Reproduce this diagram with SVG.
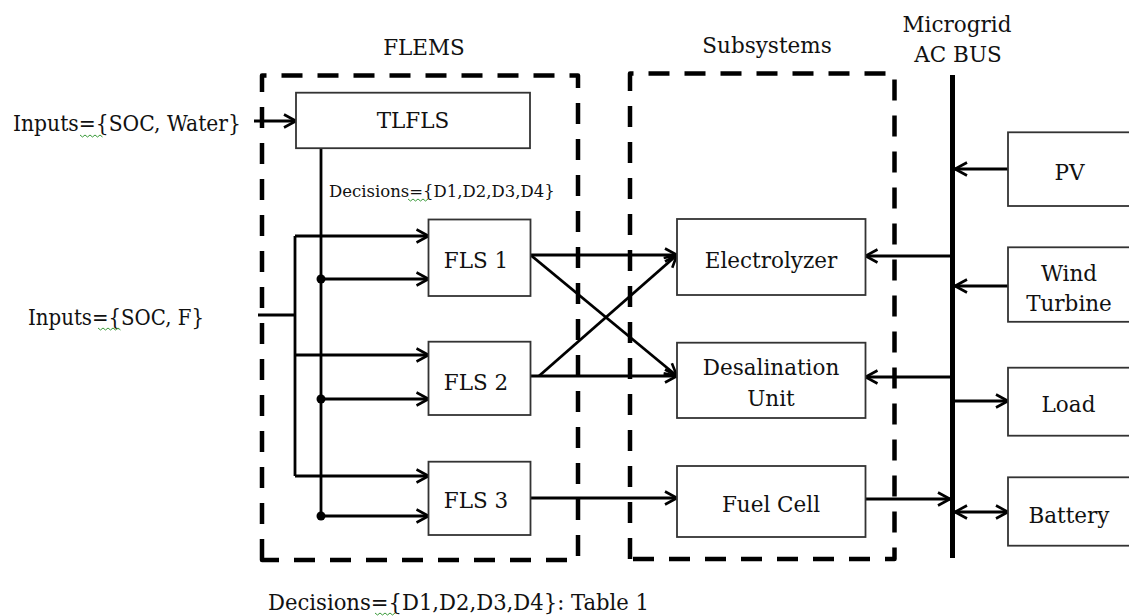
<svg xmlns="http://www.w3.org/2000/svg" width="1129" height="616" viewBox="0 0 1129 616">
<style>
  text { font-family: "DejaVu Serif", "Liberation Serif", serif; font-size: 21.5px; fill: #111; }
  .c { text-anchor: middle; }
  .small { font-size: 16.5px; }
  .box { fill: #fff; stroke: #333; stroke-width: 1.8; }
  .dash { fill: none; stroke: #000; stroke-width: 4.5; stroke-dasharray: 21 15; stroke-linejoin: round; }
  .ln { fill: none; stroke: #000; stroke-width: 2.8; }
  .arr { marker-end: url(#ah); }
  .squig { fill: none; stroke: #3a9a3a; stroke-width: 1; }
</style>
<defs>
  <marker id="ah" viewBox="0 0 14 16" refX="13" refY="8" markerWidth="14" markerHeight="16" markerUnits="userSpaceOnUse" orient="auto">
    <path d="M1,1.5 L13,8 L1,14.5" fill="none" stroke="#000" stroke-width="2.6"/>
  </marker>
  <marker id="ahs" viewBox="0 0 14 16" refX="13" refY="8" markerWidth="14" markerHeight="16" markerUnits="userSpaceOnUse" orient="auto-start-reverse">
    <path d="M1,1.5 L13,8 L1,14.5" fill="none" stroke="#000" stroke-width="2.6"/>
  </marker>
</defs>
<rect width="1129" height="616" fill="#fff"/>

<g id="groups">
  <path class="dash" d="M262,560 L262,75.5 L578,75.5 L578,560 Z"/>
  <path class="dash" d="M630,559 L630,73.5 L894.5,73.5 L894.5,559 Z"/>
  <text class="c" x="424" y="55">FLEMS</text>
  <text class="c" x="767" y="53">Subsystems</text>
</g>

<g id="bus">
  <line x1="952.5" y1="75" x2="952.5" y2="558" stroke="#000" stroke-width="5"/>
  <text class="c" x="957" y="32">Microgrid</text>
  <text class="c" x="958" y="62">AC BUS</text>
</g>

<g id="connectors">
  <line class="ln arr" x1="254" y1="121" x2="296" y2="121"/>
  <line class="ln" x1="321" y1="148" x2="321" y2="516"/>
  <circle cx="321" cy="279" r="4.5" fill="#000"/>
  <circle cx="321" cy="399" r="4.5" fill="#000"/>
  <circle cx="321" cy="516" r="4.5" fill="#000"/>
  <line class="ln arr" x1="321" y1="279" x2="428.5" y2="279"/>
  <line class="ln arr" x1="321" y1="399" x2="428.5" y2="399"/>
  <line class="ln arr" x1="321" y1="516" x2="428.5" y2="516"/>
  <line class="ln" x1="258" y1="315" x2="295" y2="315"/>
  <line class="ln" x1="295" y1="236" x2="295" y2="476"/>
  <line class="ln arr" x1="295" y1="236" x2="428.5" y2="236"/>
  <line class="ln arr" x1="295" y1="355" x2="428.5" y2="355"/>
  <line class="ln arr" x1="295" y1="476" x2="428.5" y2="476"/>
  <line class="ln arr" x1="530.5" y1="255" x2="677" y2="255"/>
  <line class="ln arr" x1="530.5" y1="255" x2="677" y2="376"/>
  <line class="ln arr" x1="539" y1="376" x2="677" y2="255"/>
  <line class="ln arr" x1="530.5" y1="376" x2="677" y2="376"/>
  <line class="ln arr" x1="530.5" y1="498" x2="677" y2="498"/>
  <line class="ln arr" x1="952.5" y1="256" x2="865.5" y2="256"/>
  <line class="ln arr" x1="952.5" y1="377" x2="865.5" y2="377"/>
  <line class="ln arr" x1="865.5" y1="499" x2="950" y2="499"/>
  <line class="ln arr" x1="1008" y1="169" x2="955" y2="169"/>
  <line class="ln arr" x1="1008" y1="286" x2="955" y2="286"/>
  <line class="ln arr" x1="955" y1="401" x2="1008" y2="401"/>
  <line class="ln" x1="955" y1="512" x2="1008" y2="512" marker-start="url(#ahs)" marker-end="url(#ah)"/>
</g>

<g id="TLFLS">
  <rect class="box" x="296" y="92.7" width="234" height="55.5"/>
  <text class="c" x="413" y="128">TLFLS</text>
</g>
<g id="FLS1">
  <rect class="box" x="428.5" y="219.5" width="102" height="76.5"/>
  <text class="c" x="476" y="268">FLS 1</text>
</g>
<g id="FLS2">
  <rect class="box" x="428.5" y="341.7" width="102" height="73.3"/>
  <text class="c" x="476" y="390">FLS 2</text>
</g>
<g id="FLS3">
  <rect class="box" x="428.5" y="461.7" width="102" height="73.3"/>
  <text class="c" x="476" y="508">FLS 3</text>
</g>
<g id="Electrolyzer">
  <rect class="box" x="677" y="219" width="188.5" height="76"/>
  <text class="c" x="771" y="268">Electrolyzer</text>
</g>
<g id="Desalination">
  <rect class="box" x="677" y="342.7" width="188.5" height="75.3"/>
  <text class="c" x="771" y="375">Desalination</text>
  <text class="c" x="771" y="406">Unit</text>
</g>
<g id="FuelCell">
  <rect class="box" x="677" y="466" width="188.5" height="71"/>
  <text class="c" x="771" y="512">Fuel Cell</text>
</g>
<g id="PV">
  <rect class="box" x="1008" y="132.3" width="125" height="73.7"/>
  <text class="c" x="1069.5" y="180">PV</text>
</g>
<g id="WindTurbine">
  <rect class="box" x="1008" y="247.3" width="125" height="74.5"/>
  <text class="c" x="1069" y="281">Wind</text>
  <text class="c" x="1069" y="311">Turbine</text>
</g>
<g id="Load">
  <rect class="box" x="1008" y="367.7" width="125" height="68"/>
  <text class="c" x="1068.5" y="412">Load</text>
</g>
<g id="Battery">
  <rect class="box" x="1008" y="477.3" width="125" height="68.4"/>
  <text class="c" x="1069" y="522.5">Battery</text>
</g>

<g id="labels">
  <text x="13" y="131" textLength="228" lengthAdjust="spacingAndGlyphs">Inputs={SOC, Water}</text>
  <text x="28" y="325" textLength="176" lengthAdjust="spacingAndGlyphs">Inputs={SOC, F}</text>
  <text class="small" x="329" y="197">Decisions={D1,D2,D3,D4}</text>
  <text x="268" y="610" textLength="381" lengthAdjust="spacingAndGlyphs">Decisions={D1,D2,D3,D4}: Table 1</text>
  <path class="squig" d="M80,135 l2.5,2 l2.5,-2 l2.5,2 l2.5,-2 l2.5,2 l2.5,-2 l2.5,2 l2.5,-2 l2.5,2"/>
  <path class="squig" d="M98,328 l2.5,2 l2.5,-2 l2.5,2 l2.5,-2 l2.5,2 l2.5,-2 l2.5,2 l2.5,-2 l2.5,2"/>
  <path class="squig" d="M408,199 l2.5,2 l2.5,-2 l2.5,2 l2.5,-2 l2.5,2 l2.5,-2 l2.5,2 l2.5,-2"/>
  <path class="squig" d="M375,613 l2.5,2 l2.5,-2 l2.5,2 l2.5,-2 l2.5,2 l2.5,-2 l2.5,2 l2.5,-2"/>
</g>
</svg>
